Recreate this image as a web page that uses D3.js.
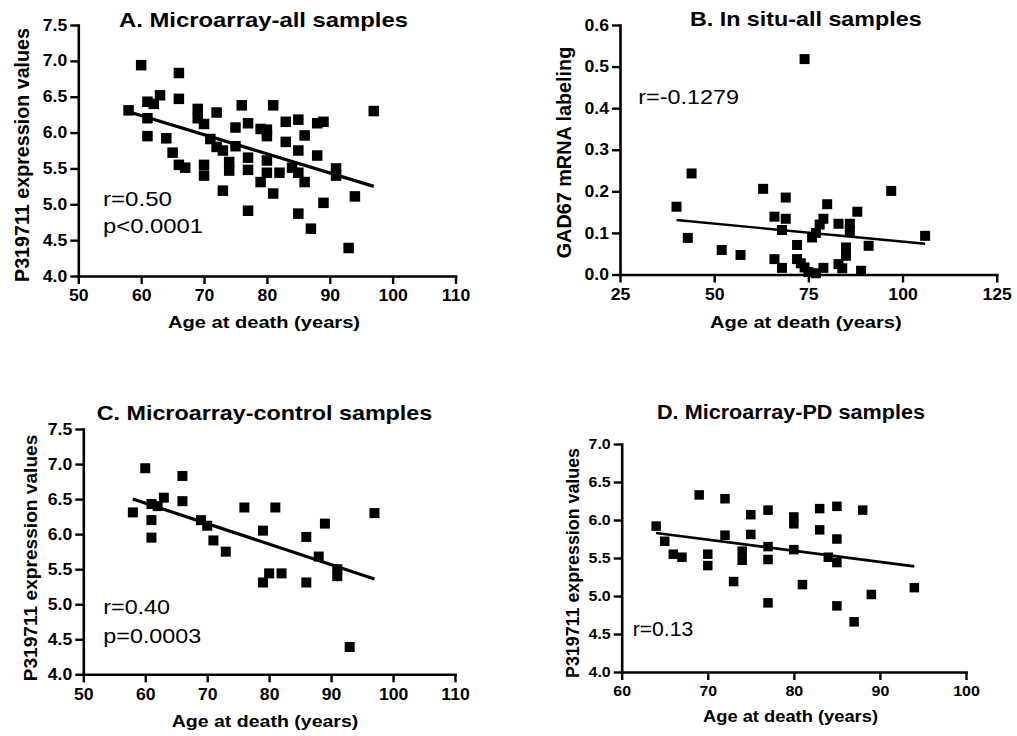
<!DOCTYPE html>
<html>
<head>
<meta charset="utf-8">
<script src="https://cdn.jsdelivr.net/npm/d3@7/dist/d3.min.js"></script>
<style>
  html, body { margin: 0; padding: 0; background: #fff; }
  svg { display: block; font-family: "Liberation Sans", Arial, Helvetica, sans-serif; }
</style>
</head>
<body>
<svg id="chart" width="1017" height="736"></svg>
<script>
// ---------------- DATA ----------------
// C. Microarray-control samples
const controlAge  = [58,60,61,62,61,61,63,66,66,69,70,71,73,76,79,79,80,81,82,86,86,88,89,91,91,93,97];
const controlExpr = [6.31,6.94,6.43,6.40,6.20,5.95,6.52,6.83,6.47,6.20,6.12,5.91,5.75,6.38,6.05,5.31,5.44,6.38,5.44,5.96,5.31,5.68,6.15,5.50,5.40,4.39,6.30];
// D. Microarray-PD samples
const pdAge  = [64,65,66,67,69,70,70,72,72,73,74,74,75,75,77,77,77,77,80,80,80,81,83,83,84,85,85,85,85,87,88,89,94];
const pdExpr = [5.92,5.72,5.55,5.51,6.33,5.55,5.40,6.28,5.80,5.19,5.59,5.47,6.07,5.81,6.13,5.65,5.48,4.91,6.04,5.95,5.61,5.15,6.15,5.87,5.51,6.18,5.75,5.44,4.87,4.66,6.13,5.02,5.11];
// A. Microarray-all samples (control + PD)
const allAge  = controlAge.concat(pdAge);
const allExpr = controlExpr.concat(pdExpr);
// B. In situ-all samples
const insituAge = [40,43,44,52,57,63,66,66,68,68,69,69,72,72,73,74,74,75,76,77,77,78,79,79,80,83,83,84,85,85,86,86,88,89,91,97,106];
const insituVal = [0.163,0.088,0.243,0.059,0.047,0.206,0.139,0.037,0.107,0.016,0.185,0.134,0.071,0.037,0.027,0.518,0.017,0.006,0.089,0.100,0.003,0.120,0.134,0.016,0.169,0.122,0.025,0.015,0.065,0.045,0.122,0.105,0.151,0.009,0.069,0.201,0.093];

// Regression line end points
const fitAllAge = [58, 97],  fitAllVal = [6.29, 5.25];
const fitInsituAge = [40, 106], fitInsituVal = [0.131, 0.074];
const fitControlAge = [58, 97], fitControlVal = [6.50, 5.36];
const fitPdAge = [64, 94], fitPdVal = [5.83, 5.39];

// Tick values
const xTicksAC = [50,60,70,80,90,100,110];
const yTicksAC = [4.0,4.5,5.0,5.5,6.0,6.5,7.0,7.5];
const xTicksB  = [25,50,75,100,125];
const yTicksB  = [0.0,0.1,0.2,0.3,0.4,0.5,0.6];
const xTicksD  = [60,70,80,90,100];
const yTicksD  = [4.0,4.5,5.0,5.5,6.0,6.5,7.0];

// Texts
const titles = ["A. Microarray-all samples","B. In situ-all samples","C. Microarray-control samples","D. Microarray-PD samples"];
const xTitle = "Age at death (years)";
const yTitleExpr = "P319711 expression values";
const yTitleGad = "GAD67 mRNA labeling";
const statsA = ["r=0.50","p<0.0001"];
const statsB = ["r=-0.1279"];
const statsC = ["r=0.40","p=0.0003"];
const statsD = ["r=0.13"];

// ---------------- DRAW ----------------
const svg = d3.select("#chart");
const STRETCH = 1.1;

function setLen(sel, w) {
  sel.attr("textLength", w).attr("lengthAdjust", "spacingAndGlyphs");
}
function stretch(sel, k) {
  sel.each(function () {
    const w = this.getComputedTextLength();
    this.setAttribute("textLength", w * k);
    this.setAttribute("lengthAdjust", "spacingAndGlyphs");
  });
}

const panels = [
  { xs: allAge, ys: allExpr, fx: fitAllAge, fy: fitAllVal,
    xDom: [50,110], yDom: [4,7.5], xT: xTicksAC, yT: yTicksAC, fmtY: ".1f",
    xr: [78.3, 455.5], yr: [276, 25], tick: 16, sq: 10.5, lw: 3.2,
    title: titles[0], tx: 263.5, ty: 26.7, tw: 289, tfs: 20.5,
    xt: xTitle, xtx: 264, xty: 328, xtw: 192, xfs: 17,
    yt: yTitleExpr, ytx: 29, yty: 155, ytw: 254, yfs: 19.5,
    stats: statsA, sx: 103, sy: [206, 233.3], sw: [69, 100] },
  { xs: insituAge, ys: insituVal, fx: fitInsituAge, fy: fitInsituVal,
    xDom: [25,125], yDom: [0,0.6], xT: xTicksB, yT: yTicksB, fmtY: ".1f",
    xr: [620, 996.7], yr: [274.5, 25], tick: 16, sq: 10, lw: 2.4,
    title: titles[1], tx: 805.8, ty: 26.2, tw: 231.7, tfs: 20.5,
    xt: xTitle, xtx: 805.8, xty: 328.3, xtw: 191.7, xfs: 17,
    yt: yTitleGad, ytx: 570.5, yty: 152.5, ytw: 211.6, yfs: 19.5,
    stats: statsB, sx: 638.3, sy: [104], sw: [100.7] },
  { xs: controlAge, ys: controlExpr, fx: fitControlAge, fy: fitControlVal,
    xDom: [50,110], yDom: [4,7.5], xT: xTicksAC, yT: yTicksAC, fmtY: ".1f",
    xr: [83.3, 455], yr: [674.3, 429], tick: 16, sq: 10, lw: 3.2,
    title: titles[2], tx: 264.5, ty: 420, tw: 335.6, tfs: 20.5,
    xt: xTitle, xtx: 265, xty: 726.7, xtw: 186.7, xfs: 17,
    yt: yTitleExpr, ytx: 37.3, yty: 558, ytw: 246.7, yfs: 19,
    stats: statsC, sx: 103.3, sy: [614, 643.3], sw: [66.7, 98] },
  { xs: pdAge, ys: pdExpr, fx: fitPdAge, fy: fitPdVal,
    xDom: [60,100], yDom: [4,7], xT: xTicksD, yT: yTicksD, fmtY: ".1f",
    xr: [621.7, 966], yr: [672, 444], tick: 14.5, sq: 9.5, lw: 2.6,
    title: titles[3], tx: 791, ty: 419.3, tw: 268, tfs: 19.5,
    xt: xTitle, xtx: 790.5, xty: 721.7, xtw: 175, xfs: 16,
    yt: yTitleExpr, ytx: 579.4, yty: 563, ytw: 230, yfs: 17.8,
    stats: statsD, sx: 632.7, sy: [636], sw: [60.6] }
];

panels.forEach(p => {
  const x = d3.scaleLinear().domain(p.xDom).range(p.xr);
  const y = d3.scaleLinear().domain(p.yDom).range(p.yr);
  const g = svg.append("g");

  // x axis
  const gx = g.append("g")
    .attr("transform", `translate(0,${p.yr[0]})`)
    .call(d3.axisBottom(x).tickValues(p.xT).tickFormat(d3.format("d"))
      .tickSize(8).tickSizeOuter(0).tickPadding(6));
  // y axis
  const gy = g.append("g")
    .attr("transform", `translate(${p.xr[0]},0)`)
    .call(d3.axisLeft(y).tickValues(p.yT).tickFormat(d3.format(p.fmtY))
      .tickSize(8).tickSizeOuter(0).tickPadding(3));

  [gx, gy].forEach(a => {
    a.select(".domain").attr("stroke", "#000").attr("stroke-width", 2.6).attr("stroke-linecap", "square");
    a.selectAll(".tick line").attr("stroke", "#000").attr("stroke-width", 2.4);
    a.selectAll(".tick text").attr("fill", "#000")
      .attr("font-family", '"Liberation Sans", Arial, sans-serif')
      .attr("font-size", p.tick).attr("font-weight", "bold");
    stretch(a.selectAll(".tick text"), STRETCH);
  });

  // regression line
  const line = d3.line().x(d => x(d[0])).y(d => y(d[1]));
  g.append("path")
    .datum(p.fx.map((v, i) => [v, p.fy[i]]))
    .attr("d", line)
    .attr("fill", "none").attr("stroke", "#000").attr("stroke-width", p.lw);

  // points
  g.append("g").selectAll("rect")
    .data(p.xs.map((v, i) => [v, p.ys[i]]))
    .join("rect")
    .attr("x", d => x(d[0]) - p.sq / 2)
    .attr("y", d => y(d[1]) - p.sq / 2)
    .attr("width", p.sq).attr("height", p.sq)
    .attr("fill", "#000");

  // title
  g.append("text").attr("x", p.tx).attr("y", p.ty)
    .attr("text-anchor", "middle").attr("font-weight", "bold")
    .attr("font-size", p.tfs).text(p.title).call(setLen, p.tw);

  // x title
  g.append("text").attr("x", p.xtx).attr("y", p.xty)
    .attr("text-anchor", "middle").attr("font-weight", "bold")
    .attr("font-size", p.xfs).text(p.xt).call(setLen, p.xtw);

  // y title
  g.append("text")
    .attr("transform", `translate(${p.ytx},${p.yty}) rotate(-90)`)
    .attr("text-anchor", "middle").attr("font-weight", "bold")
    .attr("font-size", p.yfs).text(p.yt).call(setLen, p.ytw);

  // stats
  p.stats.forEach((s, i) => {
    g.append("text").attr("x", p.sx).attr("y", p.sy[i])
      .attr("font-size", 19.5).attr("font-weight", "normal")
      .text(s).call(setLen, p.sw[i]);
  });
});
</script>
</body>
</html>
